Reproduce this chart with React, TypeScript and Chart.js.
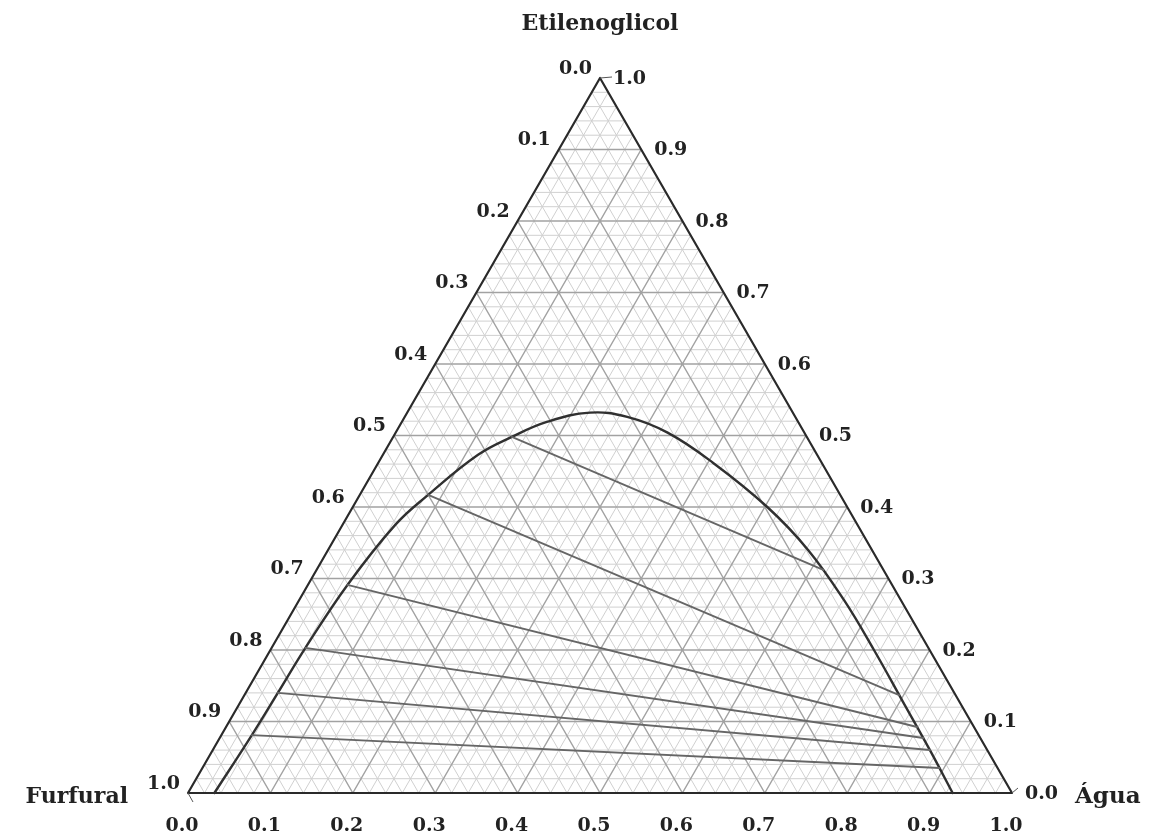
import React, { useEffect, useRef } from "react";
import { Chart, registerables } from "chart.js";

Chart.register(...registerables);

// Binodal curve (mass fractions): Água and Etilenoglicol
const curveAgua = [0.032, 0.037, 0.039, 0.041, 0.048, 0.064, 0.083, 0.1155, 0.144, 0.176, 0.222, 0.270, 0.330, 0.406, 0.503, 0.5825, 0.661, 0.7325, 0.8015, 0.8704, 0.928];
const curveEtil = [0.000, 0.081, 0.140, 0.203, 0.291, 0.375, 0.417, 0.473, 0.498, 0.519, 0.532, 0.526, 0.504, 0.462, 0.400, 0.340, 0.270, 0.200, 0.130, 0.060, 0.000];

// Tie lines: left (furfural-rich) and right (water-rich) ends
const tieLeftAgua = [0.144, 0.083, 0.048, 0.041, 0.039, 0.037];
const tieLeftEtil = [0.498, 0.417, 0.291, 0.203, 0.140, 0.081];
const tieRightAgua = [0.615, 0.7946, 0.8387, 0.8539, 0.8704, 0.8946];
const tieRightEtil = [0.312, 0.137, 0.0923, 0.0769, 0.0601, 0.035];

// Axis tick values and labels
const tickValues = [0, 0.1, 0.2, 0.3, 0.4, 0.5, 0.6, 0.7, 0.8, 0.9, 1.0];
const tickLabels = ["0.0", "0.1", "0.2", "0.3", "0.4", "0.5", "0.6", "0.7", "0.8", "0.9", "1.0"];
const gridStep = 0.02;

const titleTop = "Etilenoglicol";
const titleLeft = "Furfural";
const titleRight = "Água";

// ternary (água, etilenoglicol) -> cartesian data coords
const toXY = (w: number, e: number) => ({ x: w + e / 2, y: e });

const TICK_FONT = 'bold 19px "DejaVu Serif"';
const TITLE_FONT = 'bold 22px "DejaVu Serif"';

const ternaryPlugin = {
  id: "ternaryGrid",
  beforeDatasetsDraw(chart: any) {
    const { ctx, scales } = chart;
    const xs = scales.x, ys = scales.y;
    const P = (w: number, e: number) => {
      const p = toXY(w, e);
      return [xs.getPixelForValue(p.x), ys.getPixelForValue(p.y)];
    };
    const n = Math.round(1 / gridStep);
    const drawFamily = (major: boolean) => {
      ctx.save();
      ctx.strokeStyle = major ? "#a2a2a2" : "#d0d0d0";
      ctx.lineWidth = major ? 1.5 : 1;
      ctx.beginPath();
      for (let i = 1; i < n; i++) {
        const isMajor = i % 5 === 0;
        if (isMajor !== major) continue;
        const k = i * gridStep;
        // constant etilenoglicol (horizontal)
        let a = P(0, k), b = P(1 - k, k);
        ctx.moveTo(a[0], a[1]); ctx.lineTo(b[0], b[1]);
        // constant água
        a = P(k, 0); b = P(k, 1 - k);
        ctx.moveTo(a[0], a[1]); ctx.lineTo(b[0], b[1]);
        // constant furfural
        a = P(1 - k, 0); b = P(0, 1 - k);
        ctx.moveTo(a[0], a[1]); ctx.lineTo(b[0], b[1]);
      }
      ctx.stroke();
      ctx.restore();
    };
    drawFamily(false);
    drawFamily(true);
  },
  afterDraw(chart: any) {
    const { ctx, scales } = chart;
    const xs = scales.x, ys = scales.y;
    const P = (w: number, e: number) => {
      const p = toXY(w, e);
      return [xs.getPixelForValue(p.x), ys.getPixelForValue(p.y)];
    };
    ctx.save();
    ctx.fillStyle = "#222";
    ctx.font = TICK_FONT;
    ctx.textBaseline = "middle";
    tickValues.forEach((v, i) => {
      // bottom: água
      let p = P(v, 0);
      ctx.textAlign = "center";
      ctx.fillText(tickLabels[i], p[0] - 6, p[1] + 33);
      // left: furfural (0 at top, 1 at bottom-left)
      p = P(0, 1 - v);
      ctx.textAlign = "right";
      ctx.fillText(tickLabels[i], p[0] - 8, p[1] - 9);
      // right: etilenoglicol
      p = P(1 - v, v);
      ctx.textAlign = "left";
      ctx.fillText(tickLabels[i], p[0] + 13, p[1] + 1);
    });
    // small vertex ticks
    ctx.strokeStyle = "#555";
    ctx.lineWidth = 1;
    ctx.beginPath();
    let p = P(0, 1);
    ctx.moveTo(p[0], p[1]); ctx.lineTo(p[0] + 12, p[1] - 1);
    p = P(0, 0);
    ctx.moveTo(p[0], p[1]); ctx.lineTo(p[0] + 5, p[1] + 9);
    p = P(1, 0);
    ctx.moveTo(p[0], p[1]); ctx.lineTo(p[0] + 6, p[1] - 5);
    ctx.stroke();

    ctx.font = TITLE_FONT;
    ctx.textAlign = "center";
    p = P(0, 1);
    ctx.fillText(titleTop, p[0], p[1] - 54);
    p = P(0, 0);
    ctx.textAlign = "right";
    ctx.fillText(titleLeft, p[0] - 60, p[1] + 4);
    p = P(1, 0);
    ctx.textAlign = "left";
    ctx.font = 'bold 23px "DejaVu Serif"';
    ctx.fillText(titleRight, p[0] + 63, p[1] + 4);
    ctx.restore();
  },
};

export default function App() {
  const ref = useRef<HTMLCanvasElement>(null);
  useEffect(() => {
    if (!ref.current) return;
    const tieSets = tieLeftAgua.map((_, i) => ({
      type: "line" as const,
      label: "tie" + i,
      data: [toXY(tieLeftAgua[i], tieLeftEtil[i]), toXY(tieRightAgua[i], tieRightEtil[i])],
      borderColor: "#666",
      borderWidth: 1.9,
      pointRadius: 0,
      clip: false as any,
    }));
    const chart = new Chart(ref.current, {
      type: "scatter",
      data: {
        datasets: [
          ...tieSets,
          {
            label: "binodal",
            data: curveAgua.map((w, i) => toXY(w, curveEtil[i])),
            showLine: true,
            borderColor: "#303030",
            borderWidth: 2.4,
            pointRadius: 0,
            tension: 0.4,
            clip: false as any,
          } as any,
          {
            label: "border",
            data: [toXY(0, 0), toXY(1, 0), toXY(0, 1), toXY(0, 0)],
            showLine: true,
            borderColor: "#2a2a2a",
            borderWidth: 2.2,
            pointRadius: 0,
            tension: 0,
            clip: false as any,
          } as any,
        ] as any,
      },
      options: {
        responsive: false,
        animation: false,
        layout: { padding: { left: 188, right: 143, top: 78, bottom: 42 } },
        scales: {
          x: { type: "linear", min: 0, max: 1, display: false },
          y: { type: "linear", min: 0, max: 1, display: false },
        },
        plugins: { legend: { display: false }, tooltip: { enabled: false } },
        elements: { line: { borderCapStyle: "round", borderJoinStyle: "round" } },
      },
      plugins: [ternaryPlugin],
    });
    return () => chart.destroy();
  }, []);
  return (
    <div style={{ position: "absolute", left: 0, top: 0, width: 1155, height: 835, background: "#fff" }}>
      <canvas ref={ref} width={1155} height={835} />
    </div>
  );
}
